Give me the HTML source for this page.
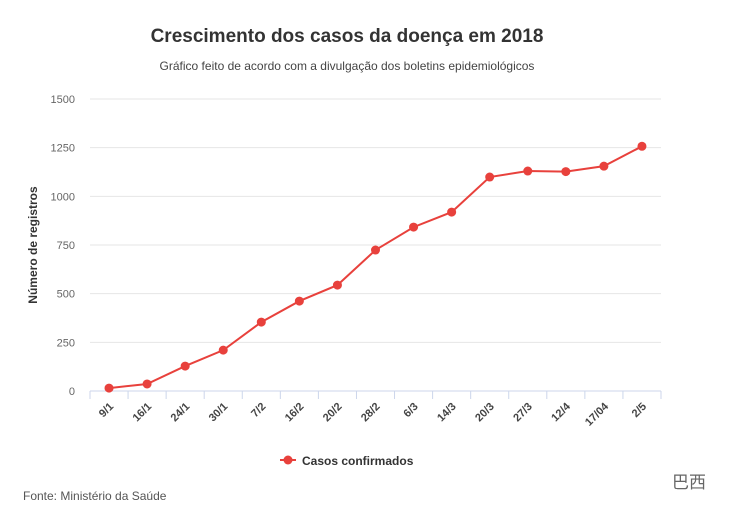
<!DOCTYPE html>
<html><head><meta charset="utf-8">
<style>
body{margin:0;background:#fff;width:730px;height:513px;overflow:hidden;font-family:"Liberation Sans",sans-serif;}
</style></head>
<body>
<svg id="chart" width="730" height="513" xmlns="http://www.w3.org/2000/svg">
<text x="347" y="42" text-anchor="middle" font-size="19" font-weight="bold" fill="#333">Crescimento dos casos da doença em 2018</text>
<text x="347" y="70" text-anchor="middle" font-size="12" fill="#444">Gráfico feito de acordo com a divulgação dos boletins epidemiológicos</text>
<text transform="translate(37,245) rotate(-90)" text-anchor="middle" font-size="12" font-weight="bold" fill="#333">Número de registros</text>
<g id="grid"></g><g id="xaxis"></g><g id="series"></g>
<g>
<line x1="280" y1="460" x2="296" y2="460" stroke="#e8413c" stroke-width="2"/>
<circle cx="288" cy="460" r="4.5" fill="#e8413c"/>
<text x="302" y="465" font-size="12" font-weight="bold" fill="#333">Casos confirmados</text>
</g>
<text x="23" y="500" font-size="12" fill="#555">Fonte: Ministério da Saúde</text>
<text x="672" y="488" font-size="17" fill="#666" font-family="'Liberation Sans','Noto Sans CJK SC',sans-serif">巴西</text>
</svg>
<script>
const categories=["9/1","16/1","24/1","30/1","7/2","16/2","20/2","28/2","6/3","14/3","20/3","27/3","12/4","17/04","2/5"];
const values=[15,36,128,210,354,462,544,724,842,919,1099,1130,1127,1155,1257];
const yTicks=[0,250,500,750,1000,1250,1500];
const NS="http://www.w3.org/2000/svg";
const x0=90,x1=661,yTop=99,yBot=391,yMax=1500;
const step=(x1-x0)/categories.length;
const xs=i=>x0+step*(i+0.5);
const ys=v=>yBot-(v/yMax)*(yBot-yTop);
function mk(t,a,p){const e=document.createElementNS(NS,t);for(const k in a)e.setAttribute(k,a[k]);p.appendChild(e);return e;}
const g=document.getElementById('grid');
yTicks.forEach(v=>{
  const l=mk('line',{x1:x0,x2:x1,y1:ys(v),y2:ys(v),stroke:v===0?'#ccd6eb':'#e6e6e6','stroke-width':1},g);
  
  
  const t=mk('text',{x:75,y:ys(v)+4,'text-anchor':'end','font-size':11,fill:'#666'},g);
  t.textContent=v;
  
  
});
const xa=document.getElementById('xaxis');
for(let i=0;i<=categories.length;i++){mk('line',{x1:x0+step*i,x2:x0+step*i,y1:yBot,y2:yBot+8,stroke:'#ccd6eb'},xa);}
categories.forEach((c,i)=>{
  const t=mk('text',{transform:`translate(${xs(i)+5},${yBot+16}) rotate(-45)`,'text-anchor':'end','font-size':11,'font-weight':'bold',fill:'#444'},xa);
  t.textContent=c;
  
  
});
const s=document.getElementById('series');
const pl=mk('polyline',{points:values.map((v,i)=>xs(i)+','+ys(v)).join(' '),fill:'none',stroke:'#e8413c','stroke-width':2},s);


values.forEach((v,i)=>{
  const c=mk('circle',{cx:xs(i),cy:ys(v),r:4.5,fill:'#e8413c'},s);
  
  
});
</script>
</body></html>
